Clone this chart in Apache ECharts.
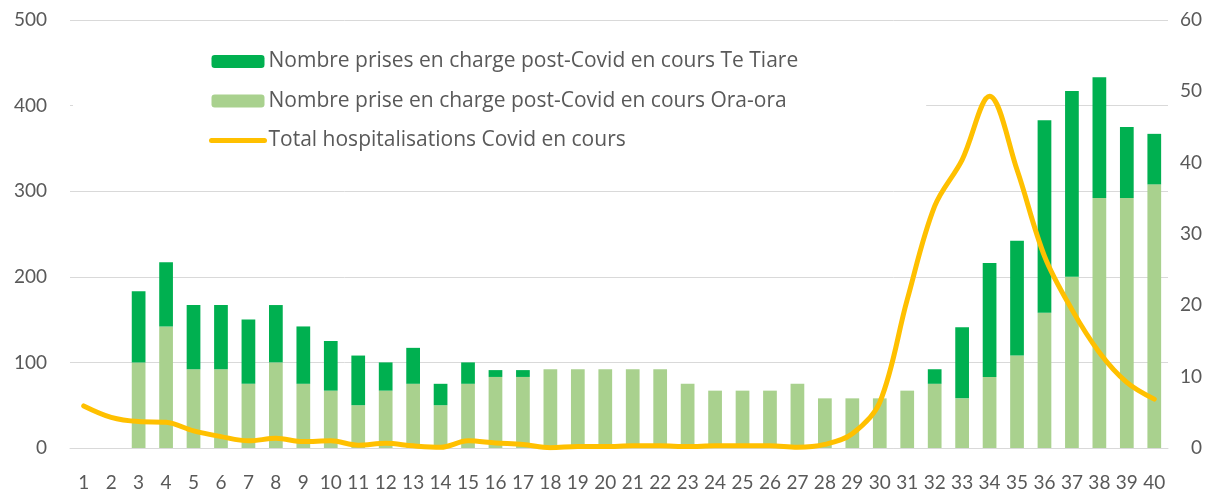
<!DOCTYPE html>
<html>
<head>
<meta charset="utf-8">
<script src="https://cdn.jsdelivr.net/npm/echarts@6/dist/echarts.min.js"></script>
<style>
  html, body { margin: 0; padding: 0; background: #fff; }
  #chart { width: 1224px; height: 492px; }
</style>
</head>
<body>
<div id="chart"></div>
<script>
const days = Array.from({ length: 40 }, (_, i) => String(i + 1))

// Ora-ora (light green, bottom of stack)
const oraOra = [0, 0, 100, 142, 92, 92, 75, 100, 75, 67,
  50, 67, 75, 50, 75, 83, 83, 92, 92, 92,
  92, 92, 75, 67, 67, 67, 75, 58, 58, 58,
  67, 75, 58, 83, 108, 158, 200, 292, 292, 308]

// Te Tiare (dark green, top of stack)
const teTiare = [0, 0, 83, 75, 75, 75, 75, 67, 67, 58,
  58, 33, 42, 25, 25, 8, 8, 0, 0, 0,
  0, 0, 0, 0, 0, 0, 0, 0, 0, 0,
  0, 17, 83, 133, 134, 225, 217, 141, 83, 59]

// Total hospitalisations Covid (right axis)
const hospit = [5.9, 4.3, 3.7, 3.6, 2.4, 1.6, 1.0, 1.35, 0.9, 1.0,
  0.4, 0.65, 0.3, 0.1, 1.0, 0.7, 0.5, 0.05, 0.2, 0.2,
  0.3, 0.3, 0.2, 0.3, 0.3, 0.3, 0.1, 0.5, 2.0, 6.4,
  20.8, 33.9, 40.4, 49.3, 39, 26.9, 19.4, 13.4, 9.2, 6.85]

const font = 'Lato, sans-serif'
const legendFont = '"Open Sans", sans-serif'
const grey = '#595959'
const gridGrey = '#d9d9d9'

const names = [
  'Nombre prises en charge post-Covid en cours Te Tiare',
  'Nombre prise en charge post-Covid en cours Ora-ora',
  'Total hospitalisations Covid en cours',
]

const chart = echarts.init(document.getElementById('chart'), null, { renderer: 'canvas' })

chart.setOption({
  backgroundColor: '#fff',
  animation: false,
  textStyle: { fontFamily: font },
  grid: { left: 70, right: 56, top: 20, bottom: 43 },
  legend: {
    orient: 'vertical',
    left: 73,
    top: 30,
    padding: [21, 128, 27, 136],
    backgroundColor: '#fff',
    itemWidth: 53,
    itemHeight: 13,
    itemGap: 18.5,
    z: 5,
    textStyle: { color: grey, fontSize: 21, fontFamily: legendFont, lineHeight: 20, padding: [0, 0, 0, -1] },
    data: [
      names[0],
      names[1],
      { name: names[2], itemStyle: { opacity: 0 }, lineStyle: { width: 5, cap: 'round', color: '#ffc000' } },
    ],
  },
  xAxis: {
    type: 'category',
    data: days,
    axisLine: { lineStyle: { color: gridGrey, width: 1 } },
    axisTick: { show: false },
    axisLabel: { color: grey, fontSize: 19, margin: 25, interval: 0 },
  },
  yAxis: [{
    type: 'value',
    min: 0,
    max: 500,
    interval: 100,
    axisLine: { show: false },
    axisTick: { show: false },
    axisLabel: { color: grey, fontSize: 19, margin: 23 },
    splitLine: { lineStyle: { color: gridGrey, width: 1 } },
  }, {
    type: 'value',
    min: 0,
    max: 60,
    interval: 10,
    axisLine: { show: false },
    axisTick: { show: false },
    axisLabel: { color: grey, fontSize: 19, margin: 34, align: 'right' },
    splitLine: { show: false },
  }],
  series: [{
    name: names[1],
    type: 'bar',
    stack: 'pc',
    barWidth: '50%',
    itemStyle: { color: '#a9d18e' },
    data: oraOra,
  }, {
    name: names[0],
    type: 'bar',
    stack: 'pc',
    barWidth: '50%',
    itemStyle: { color: '#00b050' },
    data: teTiare,
  }, {
    name: names[2],
    type: 'line',
    yAxisIndex: 1,
    smooth: 0.35,
    symbol: 'none',
    lineStyle: { color: '#ffc000', width: 5, cap: 'round' },
    itemStyle: { color: '#ffc000' },
    z: 4,
    data: hospit,
  }],
})
</script>
</body>
</html>
